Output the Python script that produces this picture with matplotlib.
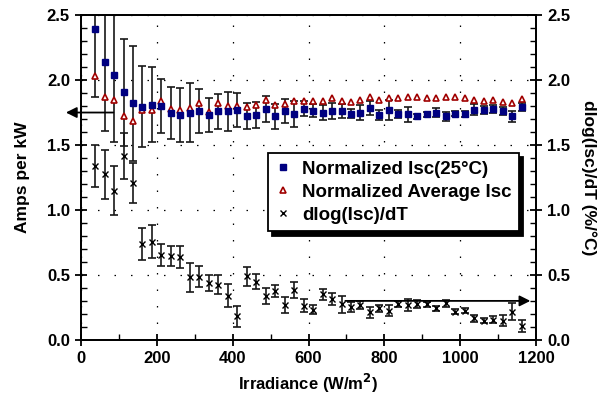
import numpy as np
import matplotlib
matplotlib.use('Agg')
import matplotlib.pyplot as plt
from matplotlib.ticker import MultipleLocator

plt.rcParams['font.family'] = ['Liberation Sans', 'DejaVu Sans']
plt.rcParams['font.weight'] = 'bold'
plt.rcParams['axes.labelweight'] = 'bold'

# irradiance bins (W/m2)
irr = [37, 62, 87, 112, 137, 162, 187, 212, 237, 262, 287, 312, 337, 362, 387,
       412, 437, 462, 487, 512, 537, 562, 587, 612, 637, 662, 687, 712, 737, 762,
       787, 812, 837, 862, 887, 912, 937, 962, 987, 1012, 1037, 1062, 1087, 1112,
       1137, 1162]

# normalized Isc at 25C (Amps per kW) and its error
isc25 = [2.39, 2.14, 2.04, 1.905, 1.82, 1.795, 1.81, 1.80, 1.75, 1.73, 1.75, 1.76,
         1.73, 1.76, 1.76, 1.77, 1.72, 1.73, 1.78, 1.72, 1.76, 1.74, 1.78, 1.764,
         1.75, 1.76, 1.76, 1.74, 1.75, 1.785, 1.733, 1.77, 1.74, 1.736, 1.72, 1.736,
         1.75, 1.72, 1.74, 1.74, 1.77, 1.77, 1.775, 1.764, 1.72, 1.79]
isc25_err = [0.52, 0.53, 0.52, 0.41, 0.44, 0.31, 0.29, 0.21, 0.20, 0.21, 0.225, 0.17,
             0.128, 0.135, 0.15, 0.128, 0.10, 0.10, 0.10, 0.096, 0.094, 0.10, 0.06,
             0.05, 0.056, 0.06, 0.054, 0.035, 0.056, 0.054, 0.04, 0.074, 0.03, 0.058,
             0.02, 0.02, 0.035, 0.035, 0.02, 0.025, 0.042, 0.032, 0.03, 0.03, 0.04, 0.03]

# normalized average Isc
isc_avg = [2.03, 1.87, 1.846, 1.72, 1.685, 1.77, 1.77, 1.84, 1.78, 1.77, 1.785, 1.82,
           1.755, 1.826, 1.80, 1.80, 1.792, 1.805, 1.85, 1.81, 1.815, 1.835, 1.84,
           1.836, 1.836, 1.86, 1.836, 1.83, 1.85, 1.87, 1.85, 1.86, 1.86, 1.867,
           1.867, 1.86, 1.86, 1.87, 1.867, 1.86, 1.85, 1.838, 1.846, 1.83, 1.823, 1.856]

# temperature coefficient (%/C) and its error
dlog = [1.338, 1.275, 1.149, 1.415, 1.21, 0.738, 0.756, 0.654, 0.646, 0.64, 0.482,
        0.487, 0.436, 0.426, 0.341, 0.18, 0.49, 0.449, 0.338, 0.377, 0.269, 0.385,
        0.262, 0.231, 0.351, 0.313, 0.274, 0.251, 0.269, 0.213, 0.244, 0.226, 0.277,
        0.269, 0.277, 0.275, 0.244, 0.282, 0.218, 0.223, 0.167, 0.146, 0.154, 0.146,
        0.218, 0.108]
dlog_err = [0.16, 0.19, 0.19, 0.18, 0.155, 0.12, 0.125, 0.083, 0.08, 0.085, 0.11,
            0.083, 0.06, 0.073, 0.086, 0.083, 0.074, 0.06, 0.064, 0.045, 0.064, 0.06,
            0.05, 0.035, 0.041, 0.045, 0.064, 0.038, 0.032, 0.042, 0.026, 0.042,
            0.026, 0.047, 0.032, 0.02, 0.02, 0.026, 0.02, 0.02, 0.026, 0.02, 0.028,
            0.042, 0.064, 0.047]

fig = plt.figure(figsize=(6.05, 4.08), dpi=100)
ax = fig.add_axes([0.134, 0.167, 0.752, 0.796])

ax.errorbar(irr, isc25, yerr=isc25_err, fmt='none', ecolor='#181818',
            elinewidth=1.2, capsize=2.6, capthick=1.2, zorder=2)
ax.errorbar(irr, dlog, yerr=dlog_err, fmt='none', ecolor='#181818',
            elinewidth=1.2, capsize=2.6, capthick=1.2, zorder=2)
ax.plot(irr, isc25, 's', color='#000080', ms=4.6, mec='#000080', zorder=4,
        label='Normalized Isc(25°C)')
ax.plot(irr, isc_avg, '^', mfc='white', mec='#A00000', mew=1.2, ms=4.6, zorder=3,
        label='Normalized Average Isc')
ax.plot(irr, dlog, 'x', color='black', ms=4.2, mew=1.0, zorder=4,
        label='dlog(Isc)/dT')

ax.set_xlim(0, 1200)
ax.set_ylim(0, 2.5)
ax.xaxis.set_major_locator(MultipleLocator(200))
ax.xaxis.set_minor_locator(MultipleLocator(100))
ax.yaxis.set_major_locator(MultipleLocator(0.5))
ax.yaxis.set_minor_locator(MultipleLocator(0.1))
ax.yaxis.set_major_formatter(matplotlib.ticker.FormatStrFormatter('%.1f'))
ax.grid(True, which='major', color='black', lw=0.9, ls=(0, (1.2, 12)))

ax2 = ax.twinx()
ax2.set_ylim(0, 2.5)
ax2.yaxis.set_major_locator(MultipleLocator(0.5))
ax2.yaxis.set_minor_locator(MultipleLocator(0.1))
ax2.yaxis.set_major_formatter(matplotlib.ticker.FormatStrFormatter('%.1f'))

for a in (ax, ax2):
    for s in a.spines.values():
        s.set_linewidth(1.3)
    a.tick_params(which='major', direction='inout', length=9, width=1.3, labelsize=12)
    a.tick_params(which='minor', direction='in', length=4, width=1.0)
ax.tick_params(top=False, which='both')

ax.set_xlabel('Irradiance (W/m$^\\mathbf{2}$)', fontsize=12)
ax.set_ylabel('Amps per kW', fontsize=12.5, labelpad=12)
ax2.set_ylabel('dlog(Isc)/dT (%/°C)', fontsize=12.5, rotation=270, labelpad=19)

# arrows pointing to each series' axis
ax.annotate('', xy=(-40, 1.75), xytext=(85, 1.75), annotation_clip=False,
            arrowprops=dict(arrowstyle='-|>', color='black', lw=1.3,
                            mutation_scale=16, shrinkA=0, shrinkB=0))
ax.annotate('', xy=(1185, 0.30), xytext=(697, 0.30), annotation_clip=False,
            arrowprops=dict(arrowstyle='-|>', color='black', lw=1.3,
                            mutation_scale=16, shrinkA=0, shrinkB=0))

leg = ax.legend(loc='upper left', bbox_to_anchor=(0.411, 0.575), borderaxespad=0,
                fontsize=13.5, markerscale=0.9, handlelength=0.8, handletextpad=0.6,
                borderpad=0.4, labelspacing=0.32, fancybox=False, framealpha=1,
                shadow={'color': 'black', 'alpha': 1, 'ox': 3, 'oy': -3})
leg.get_frame().set_edgecolor('black')
leg.get_frame().set_linewidth(1.3)
leg.set_zorder(10)

fig.savefig('out.png', dpi=100)
